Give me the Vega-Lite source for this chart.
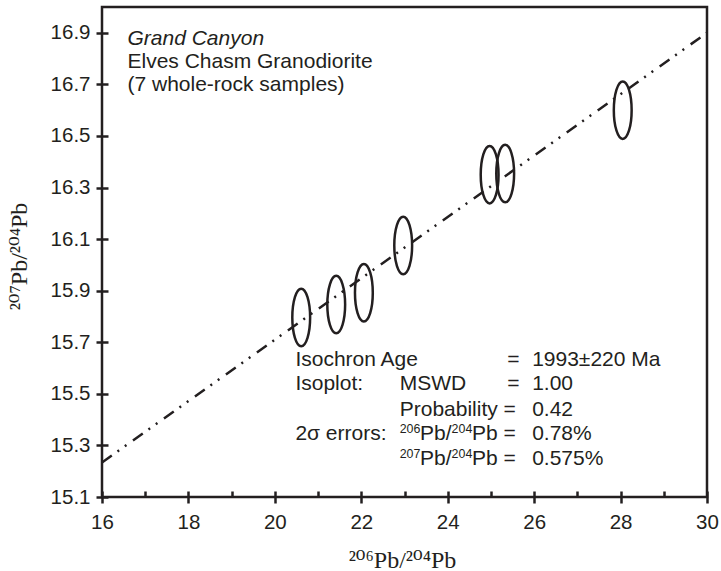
{
  "$schema": "https://vega.github.io/schema/vega-lite/v6.json",
  "width": 605,
  "height": 490,
  "autosize": "none",
  "padding": {"left": 102, "top": 7, "right": 14, "bottom": 74},
  "background": "white",
  "config": {
    "view": {"stroke": "#231f20", "strokeWidth": 2.5},
    "font": "Liberation Sans"
  },
  "datasets": {
    "samples": [
      {"x": 20.61, "y": 15.796},
      {"x": 21.42, "y": 15.846},
      {"x": 22.06, "y": 15.892},
      {"x": 22.97, "y": 16.075},
      {"x": 24.97, "y": 16.35},
      {"x": 25.33, "y": 16.354},
      {"x": 28.05, "y": 16.6}
    ],
    "isochron": [
      {"x": 16.0, "y": 15.234},
      {"x": 30.0, "y": 16.9}
    ],
    "heading": [
      {"x": 16.59, "y": 16.854, "text": "Grand Canyon"}
    ],
    "notes": [
      {"x": 16.59, "y": 16.765, "text": "Elves Chasm Granodiorite"},
      {"x": 16.59, "y": 16.673, "text": "(7 whole-rock samples)"},
      {"x": 20.475, "y": 15.609, "text": "Isochron Age"},
      {"x": 25.375, "y": 15.609, "text": "="},
      {"x": 25.954, "y": 15.609, "text": "1993±220 Ma"},
      {"x": 20.475, "y": 15.516, "text": "Isoplot:"},
      {"x": 22.889, "y": 15.516, "text": "MSWD"},
      {"x": 25.375, "y": 15.516, "text": "="},
      {"x": 25.954, "y": 15.516, "text": "1.00"},
      {"x": 22.889, "y": 15.415, "text": "Probability"},
      {"x": 25.29, "y": 15.415, "text": "="},
      {"x": 25.954, "y": 15.415, "text": "0.42"},
      {"x": 20.475, "y": 15.322, "text": "2σ errors:"},
      {"x": 23.36, "y": 15.322, "text": "Pb/"},
      {"x": 24.56, "y": 15.322, "text": "Pb"},
      {"x": 25.29, "y": 15.322, "text": "="},
      {"x": 25.954, "y": 15.322, "text": "0.78%"},
      {"x": 23.36, "y": 15.225, "text": "Pb/"},
      {"x": 24.56, "y": 15.225, "text": "Pb"},
      {"x": 25.29, "y": 15.225, "text": "="},
      {"x": 25.954, "y": 15.225, "text": "0.575%"}
    ],
    "sups": [
      {"x": 22.889, "y": 15.322, "text": "206"},
      {"x": 24.09, "y": 15.322, "text": "204"},
      {"x": 22.889, "y": 15.225, "text": "207"},
      {"x": 24.09, "y": 15.225, "text": "204"}
    ]
  },
  "layer": [
    {
      "data": {"name": "isochron"},
      "mark": {"type": "line", "stroke": "#231f20", "strokeWidth": 2.5, "strokeDash": [12, 7, 2, 7, 2, 8], "clip": true},
      "encoding": {
        "x": {
          "field": "x", "type": "quantitative",
          "scale": {"domain": [16, 30], "nice": false, "zero": false},
          "axis": {
            "title": "²⁰⁶Pb/²⁰⁴Pb",
            "values": [16, 17, 18, 19, 20, 21, 22, 23, 24, 25, 26, 27, 28, 29, 30],
            "labelExpr": "datum.value % 2 == 0 ? datum.label : ''",
            "domain": false, "grid": false, "offset": -6,
            "tickSize": {"condition": {"test": "datum.value % 2 == 0", "value": 12}, "value": 6},
            "tickWidth": 2.5, "tickColor": "#231f20",
            "labelFont": "Liberation Sans", "labelFontSize": 20.5, "labelColor": "#231f20",
            "labelPadding": 9, "labelFlush": false, "labelOverlap": false,
            "titleFont": "Liberation Serif, DejaVu Serif", "titleFontSize": 24, "titleFontWeight": "normal",
            "titleColor": "#231f20", "titleBaseline": "alphabetic", "titleX": 300, "titleY": 76
          }
        },
        "y": {
          "field": "y", "type": "quantitative",
          "scale": {"domain": [15.1, 17.0], "nice": false, "zero": false},
          "axis": {
            "title": "²⁰⁷Pb/²⁰⁴Pb",
            "values": [15.1, 15.2, 15.3, 15.4, 15.5, 15.6, 15.7, 15.8, 15.9, 16.0, 16.1, 16.2, 16.3, 16.4, 16.5, 16.6, 16.7, 16.8, 16.9],
            "labelExpr": "round(datum.value * 10) % 2 == 1 ? format(datum.value, '.1f') : ''",
            "domain": false, "grid": false, "offset": -6,
            "tickSize": {"condition": {"test": "round(datum.value * 10) % 2 == 1", "value": 12}, "value": 6},
            "tickWidth": 2.5, "tickColor": "#231f20",
            "labelFont": "Liberation Sans", "labelFontSize": 20.5, "labelColor": "#231f20",
            "labelPadding": 6, "labelFlush": false, "labelOverlap": false,
            "titleFont": "Liberation Serif, DejaVu Serif", "titleFontSize": 24, "titleFontWeight": "normal",
            "titleColor": "#231f20", "titleAngle": -90, "titleAlign": "center",
            "titleBaseline": "alphabetic", "titleX": -82, "titleY": 249
          }
        }
      }
    },
    {
      "data": {"name": "samples"},
      "mark": {
        "type": "point",
        "shape": "M0,-1A0.31,1,0,1,1,0,1A0.31,1,0,1,1,0,-1Z",
        "size": 3306,
        "filled": false,
        "stroke": "#231f20",
        "strokeWidth": 2.5,
        "opacity": 1
      },
      "encoding": {
        "x": {"field": "x", "type": "quantitative"},
        "y": {"field": "y", "type": "quantitative"}
      }
    },
    {
      "data": {"name": "heading"},
      "mark": {"type": "text", "align": "left", "baseline": "alphabetic", "font": "Liberation Sans", "fontSize": 21, "fontStyle": "italic", "color": "#231f20"},
      "encoding": {
        "x": {"field": "x", "type": "quantitative"},
        "y": {"field": "y", "type": "quantitative"},
        "text": {"field": "text"}
      }
    },
    {
      "data": {"name": "notes"},
      "mark": {"type": "text", "align": "left", "baseline": "alphabetic", "font": "Liberation Sans", "fontSize": 21, "color": "#231f20"},
      "encoding": {
        "x": {"field": "x", "type": "quantitative"},
        "y": {"field": "y", "type": "quantitative"},
        "text": {"field": "text"}
      }
    },
    {
      "data": {"name": "sups"},
      "mark": {"type": "text", "align": "left", "baseline": "alphabetic", "font": "Liberation Sans", "fontSize": 12.4, "dy": -7, "color": "#231f20"},
      "encoding": {
        "x": {"field": "x", "type": "quantitative"},
        "y": {"field": "y", "type": "quantitative"},
        "text": {"field": "text"}
      }
    }
  ]
}
